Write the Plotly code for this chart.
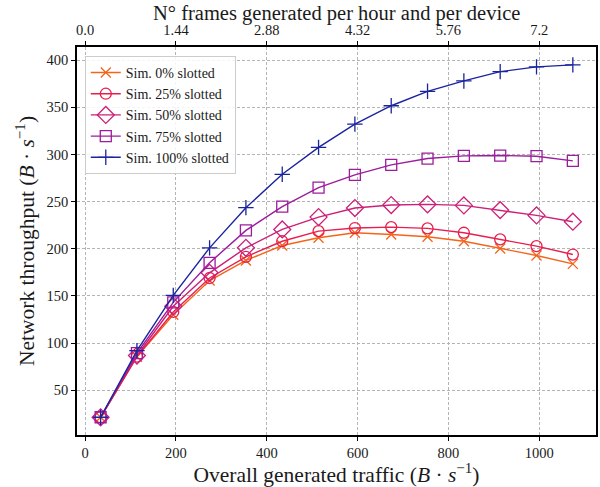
import plotly.graph_objects as go

traffic = [34, 114, 194, 274, 354, 434, 514, 594, 674, 754, 834, 914, 994, 1074]
thr_0 = [21.3, 85.5, 130, 166.3, 187.6, 203.5, 211.7, 217, 215.2, 212.8, 208, 200.3, 192.9, 184]
thr_25 = [21.3, 85.7, 133, 169, 191.5, 208, 218.7, 222, 223, 221.6, 217, 209.9, 202.8, 193.9]
thr_50 = [21.3, 86.8, 139, 174.5, 201, 220.5, 233.6, 243.2, 246.4, 247.1, 246, 241, 235.4, 228.7]
thr_75 = [21.3, 89.4, 143.2, 185.1, 219.5, 244.7, 264.9, 278.3, 289, 295.7, 298.5, 298.9, 298.2, 293.2]
thr_100 = [21.3, 92, 150.6, 201, 243.6, 279, 307.5, 332.2, 351.7, 367, 378, 387.9, 392.9, 395]

series_names = ["Sim. 0% slotted", "Sim. 25% slotted", "Sim. 50% slotted",
                "Sim. 75% slotted", "Sim. 100% slotted"]
series_vals = [thr_0, thr_25, thr_50, thr_75, thr_100]
colors = ["#f4641a", "#e81e4e", "#cc1f78", "#9c1c9c", "#1a249e"]
symbols = ["x-thin-open", "circle-open", "diamond-open", "square-open", "cross-thin-open"]
sizes = [10, 11, 13, 11, 11]

x_ticks = [0, 200, 400, 600, 800, 1000]
y_ticks = [50, 100, 150, 200, 250, 300, 350, 400]
frames_factor = 0.0072
top_tick_vals = [0.0, 1.44, 2.88, 4.32, 5.76, 7.2]
top_tick_text = ["0.0", "1.44", "2.88", "4.32", "5.76", "7.2"]

x_range = [-18, 1125]
y_range = [2.5, 414]

FONT = "Liberation Serif"
TXT = "#1a1a1a"

fig = go.Figure()
for name, vals, c, s, sz in zip(series_names, series_vals, colors, symbols, sizes):
    fig.add_trace(go.Scatter(
        x=traffic, y=vals, name=name, mode="lines+markers",
        line=dict(color=c, width=1.4),
        marker=dict(symbol=s, size=sz, color=c, line=dict(color=c, width=1.3)),
    ))

fig.add_trace(go.Scatter(
    x=[t * frames_factor for t in traffic], y=thr_0, xaxis="x2",
    mode="markers", marker=dict(opacity=0), showlegend=False, hoverinfo="skip",
))

line_common = dict(
    showline=True, linecolor="black", linewidth=1.5,
    ticks="outside", ticklen=4, tickwidth=1, tickcolor="black",
    tickfont=dict(family=FONT, size=14.5, color=TXT),
    zeroline=False, automargin=False,
)
grid_common = dict(gridcolor="#b4b4b4", griddash="3px,2px", gridwidth=0.8)

fig.update_layout(
    width=600, height=487,
    margin=dict(l=77, r=4, t=47, b=52),
    paper_bgcolor="white", plot_bgcolor="white",
    font=dict(family=FONT, color=TXT),
    xaxis=dict(
        range=x_range, tickvals=x_ticks, mirror=True, showgrid=True,
        title=dict(text="Overall generated traffic (<i>B</i> · <i>s</i><sup>−1</sup>)",
                   font=dict(family=FONT, size=21.5, color=TXT), standoff=0),
        **line_common, **grid_common,
    ),
    xaxis2=dict(
        range=[x_range[0] * frames_factor, x_range[1] * frames_factor],
        tickvals=top_tick_vals, ticktext=top_tick_text,
        overlaying="x", side="top", anchor="y", showgrid=False,
        **line_common,
    ),
    yaxis=dict(
        range=y_range, tickvals=y_ticks, mirror=True, showgrid=True,
        title=dict(text="Network throughput (<i>B</i> · <i>s</i><sup>−1</sup>)",
                   font=dict(family=FONT, size=21.5, color=TXT), standoff=6),
        **line_common, **grid_common,
    ),
    annotations=[dict(
        text="N° frames generated per hour and per device",
        xref="paper", yref="paper", x=0.5, y=1, xanchor="center", yanchor="middle",
        yshift=34, showarrow=False, font=dict(family=FONT, size=20.5, color=TXT),
    )],
    legend=dict(
        x=0.015, y=0.977, xanchor="left", yanchor="top",
        bgcolor="rgba(255,255,255,0.85)", bordercolor="#cccccc", borderwidth=1,
        font=dict(family=FONT, size=14, color=TXT),
        tracegroupgap=0, itemwidth=30,
    ),
)

fig.write_html("out.html", config={"displayModeBar": False},
               post_script="document.body.style.margin='0';")
